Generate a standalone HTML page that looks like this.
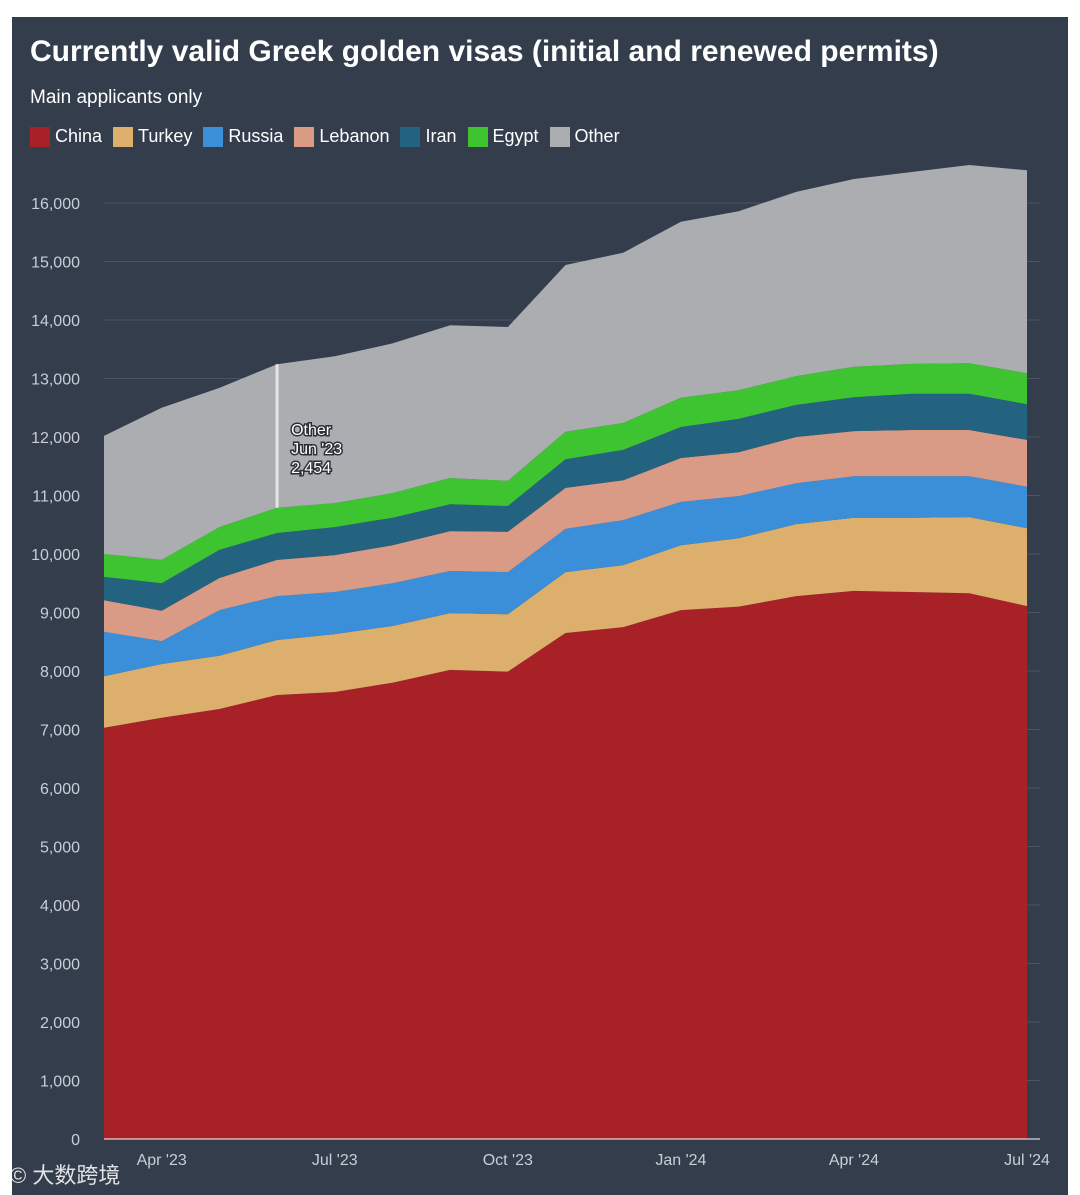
<!DOCTYPE html>
<html><head><meta charset="utf-8">
<style>
html,body{margin:0;padding:0;background:#fff;}
body{width:1080px;height:1195px;position:relative;overflow:hidden;font-family:"Liberation Sans","Noto Sans CJK SC",sans-serif;}
#card{position:absolute;left:12px;top:17px;width:1056px;height:1178px;background:#333d4c;}
#title{position:absolute;left:18px;top:18px;color:#fff;font-size:30px;font-weight:bold;margin:0;}
#sub{position:absolute;left:18px;top:70px;color:#fff;font-size:19px;}
#legend{position:absolute;left:18px;top:109px;display:flex;color:#fff;font-size:18px;}
.le{display:flex;align-items:center;margin-right:11px;}
.sw{width:20px;height:20px;margin-right:5px;}
svg{position:absolute;left:0;top:0;}
#wm{position:absolute;left:10px;top:1158px;color:#fff;font-size:22px;opacity:.85;}
</style></head><body>
<div id="card">
<h1 id="title">Currently valid Greek golden visas (initial and renewed permits)</h1>
<div id="sub">Main applicants only</div>
<div id="legend"></div>
</div>
<svg id="chart" width="1080" height="1195"></svg>
<div id="wm">© 大数跨境</div>
<script>
const months=["Mar '23","Apr '23","May '23","Jun '23","Jul '23","Aug '23","Sep '23","Oct '23","Nov '23","Dec '23","Jan '24","Feb '24","Mar '24","Apr '24","May '24","Jun '24","Jul '24"];
const seriesNames=["China","Turkey","Russia","Lebanon","Iran","Egypt","Other"];
const china=[7030,7200,7350,7590,7640,7800,8020,7990,8650,8750,9040,9100,9280,9370,9350,9330,9110];
const turkey=[880,920,910,940,990,970,970,980,1040,1060,1110,1170,1230,1250,1270,1300,1330];
const russia=[760,390,780,750,720,730,720,720,740,770,740,720,700,710,710,700,710];
const lebanon=[540,520,550,620,630,650,680,690,700,680,750,750,790,770,790,790,800];
const iran=[400,470,480,460,480,470,460,440,490,520,530,570,550,580,620,620,610];
const egypt=[390,400,390,430,410,420,450,430,470,460,500,490,490,520,510,520,530];
const other=[2020,2600,2380,2454,2510,2560,2610,2630,2850,2910,3010,3060,3150,3210,3280,3390,3470];
const yTicks=[0,1000,2000,3000,4000,5000,6000,7000,8000,9000,10000,11000,12000,13000,14000,15000,16000];
const xTickIdx=[1,4,7,10,13,16];
const xTickLabels=["Apr '23","Jul '23","Oct '23","Jan '24","Apr '24","Jul '24"];
const colors=["#a82126","#dcb06c","#3b8fd8","#d99b86","#24637f","#3ec431","#acadb1"];

const NS="http://www.w3.org/2000/svg";
const svg=document.getElementById('chart');
const x0=104,x1=1027,yBase=1139,yTop=203;
const xs=i=>x0+(x1-x0)*i/(months.length-1);
const ys=v=>yBase-(yBase-yTop)*v/16000;
function mk(t,a){const e=document.createElementNS(NS,t);for(const k in a)e.setAttribute(k,a[k]);svg.appendChild(e);return e;}

const leg=document.getElementById('legend');
seriesNames.forEach((n,i)=>{
  const d=document.createElement('div');d.className='le';
  
  
  d.innerHTML='<div class="sw" style="background:'+colors[i]+'"></div>'+n;
  leg.appendChild(d);
});

yTicks.forEach(v=>{
  const l=mk('line',{x1:x0,x2:1040,y1:ys(v),y2:ys(v),stroke:'#4a5464','stroke-width':1});
  
  
  const t=mk('text',{x:80,y:ys(v)+6,'text-anchor':'end',fill:'#c9ced6','font-size':16,'font-family':'Liberation Sans, sans-serif'});
  t.textContent=v.toLocaleString('en-US');
  
  
});

const data=[china,turkey,russia,lebanon,iran,egypt,other];
let base=months.map(()=>0);
data.forEach((s,si)=>{
  const top=base.map((b,i)=>b+s[i]);
  let d='';
  top.forEach((v,i)=>{d+=(i?'L':'M')+xs(i)+','+ys(v);});
  for(let i=months.length-1;i>=0;i--)d+='L'+xs(i)+','+ys(base[i]);
  const p=mk('path',{d:d+'Z',fill:colors[si]});
  
  
  base=top;
});

const ax=mk('line',{x1:x0,x2:1040,y1:yBase,y2:yBase,stroke:'#ffffff','stroke-width':1});


xTickIdx.forEach((idx,k)=>{
  const t=mk('text',{x:xs(idx),y:1165,'text-anchor':'middle',fill:'#c9ced6','font-size':16,'font-family':'Liberation Sans, sans-serif'});
  t.textContent=xTickLabels[k];
  
  
});

const ai=3;
let below=0;for(let s=0;s<6;s++)below+=data[s][ai];
const al=mk('line',{x1:xs(ai),x2:xs(ai),y1:ys(below+other[ai]),y2:ys(below),stroke:'#e6e6e6','stroke-width':3});


["Other",months[ai],other[ai].toLocaleString('en-US')].forEach((s,k)=>{
  const t=mk('text',{x:xs(ai)+14,y:ys(below+other[ai])+71+k*19,fill:'#fff',stroke:'#2a303a','stroke-width':3,'paint-order':'stroke','font-size':16,'font-family':'Liberation Sans, sans-serif'});
  t.textContent=s;
  
  
});
</script>
</body></html>
